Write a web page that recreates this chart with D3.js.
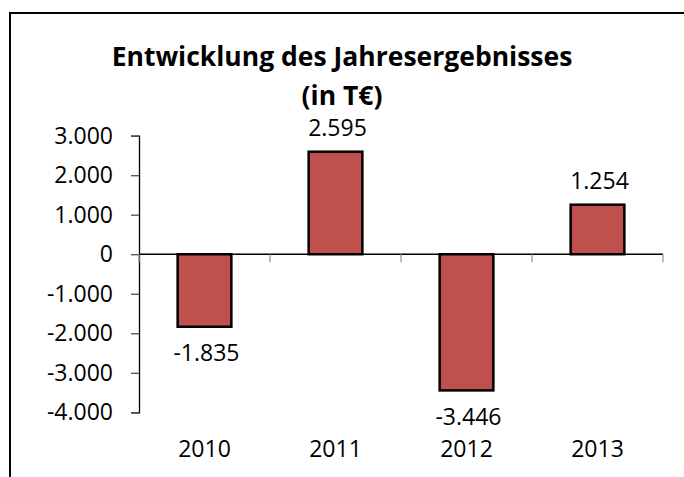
<html>
<head>
<script src="https://d3js.org/d3.v7.min.js"></script>
<style>
body { margin: 0; background: white; }
text { font-family: "Open Sans", sans-serif; fill: black; }
</style>
</head>
<body>
<svg width="684" height="477"></svg>
<script>
// data (T€)
var years = ["2010", "2011", "2012", "2013"];
var results = [-1835, 2595, -3446, 1254];
var yTicks = [3000, 2000, 1000, 0, -1000, -2000, -3000, -4000];
var titleLines = ["Entwicklung des Jahresergebnisses", "(in T€)"];

var svg = d3.select("svg");

// german number format: dot as thousands separator, plain hyphen for minus
var de = d3.formatLocale({decimal: ",", thousands: ".", grouping: [3], currency: ["", " €"], minus: "-"});
var fmt = de.format(",");

// outer frame (runs past the picture at right and bottom)
svg.append("rect")
.attr("x", 10).attr("y", 13)
.attr("width", 700).attr("height", 500)
.attr("fill", "none").attr("stroke", "black").attr("stroke-width", 2);

// title
svg.append("g").selectAll("text")
.data(titleLines)
.enter()
.append("text")
.attr("x", 342)
.attr("y", function(d, i) { return 66 + i * 39; })
.attr("text-anchor", "middle")
.style("font-size", "26.5px")
.style("font-weight", "bold")
.text(function(d) { return d; });

var y = d3.scaleLinear()
.domain([-4000, 3000])
.range([412.3, 135.7]);

var xCat = d3.scaleBand()
.domain(years)
.range([139, 663]);

var xBar = d3.scaleBand()
.domain(years)
.range([139, 663])
.paddingInner(0.59)
.paddingOuter(0.295);

// y axis
var yAxis = svg.append("g")
.attr("transform", "translate(139,0)")
.call(d3.axisLeft(y).tickValues(yTicks).tickSize(8).tickPadding(18).tickFormat(fmt));
yAxis.select(".domain").attr("stroke", "black").attr("stroke-width", 1.3);
yAxis.selectAll(".tick line").attr("stroke", "#505050").attr("stroke-width", 1.3);
yAxis.selectAll(".tick text")
.attr("fill", "black")
.style("font-size", "23px")
.style("font-family", "'Open Sans', sans-serif");

// x axis line on zero with ticks at category boundaries
var bounds = years.map(function(d) { return xCat(d); }).concat([xCat.range()[1]]);
var xAxis = svg.append("g").attr("transform", "translate(0," + y(0) + ")");
xAxis.append("line")
.attr("x1", 139).attr("x2", 663)
.attr("stroke", "black").attr("stroke-width", 1.3);
xAxis.selectAll(".btick")
.data(bounds)
.enter()
.append("line")
.attr("class", "btick")
.attr("x1", function(d) { return d; })
.attr("x2", function(d) { return d; })
.attr("y1", 0).attr("y2", 8)
.attr("stroke", "#999").attr("stroke-width", 1.3);

// category labels at the bottom
svg.append("g")
.attr("transform", "translate(0,457)")
.call(d3.axisBottom(xCat).tickSize(0).tickPadding(0))
.call(function(g) { g.select(".domain").remove(); })
.selectAll("text")
.attr("fill", "black")
.attr("dy", 0)
.style("font-size", "23px")
.style("font-family", "'Open Sans', sans-serif");

// bars
svg.append("g")
.selectAll("rect")
.data(results)
.enter()
.append("rect")
.attr("x", function(d, i) { return xBar(years[i]); })
.attr("y", function(d) { return y(Math.max(0, d)); })
.attr("width", xBar.bandwidth())
.attr("height", function(d) { return Math.abs(y(d) - y(0)); })
.attr("fill", "#C0504D")
.attr("stroke", "black")
.attr("stroke-width", 2.5);

// value labels outside the bar ends
svg.append("g")
.selectAll("text")
.data(results)
.enter()
.append("text")
.attr("x", function(d, i) { return xBar(years[i]) + xBar.bandwidth() / 2 + 2; })
.attr("y", function(d) { return d >= 0 ? y(d) - 16 : y(d) + 34.5; })
.attr("text-anchor", "middle")
.style("font-size", "23px")
.text(function(d) { return fmt(d); });
</script>
</body>
</html>
